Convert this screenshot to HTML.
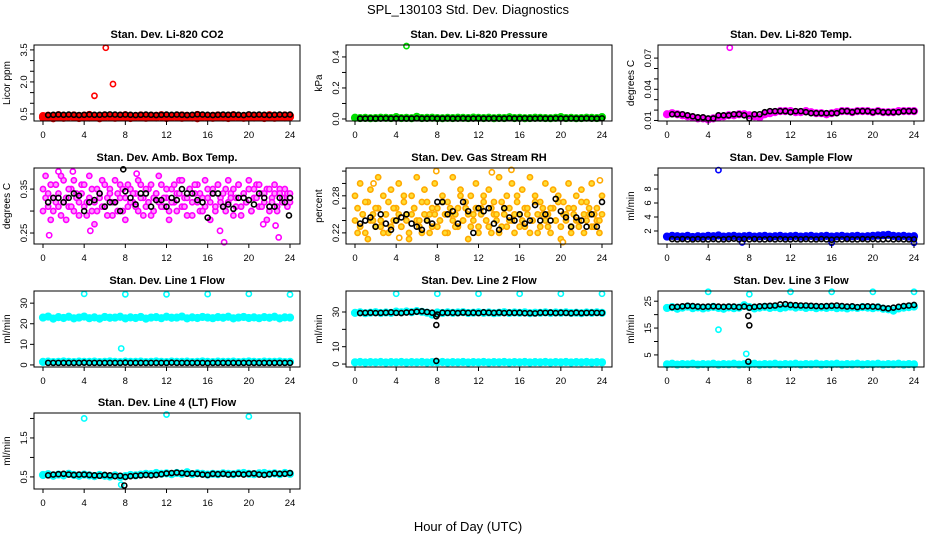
<!DOCTYPE html>
<html><head><meta charset="utf-8"><style>
body{margin:0;background:#fff;}
svg{display:block;font-family:"Liberation Sans",sans-serif;}
</style></head><body>
<svg id="chart" width="936" height="540" viewBox="0 0 936 540">
<rect width="936" height="540" fill="#fff"/>
<text x="468" y="14" text-anchor="middle" font-size="13">SPL_130103  Std. Dev. Diagnostics</text>
<text x="468" y="531" text-anchor="middle" font-size="13">Hour of Day (UTC)</text>
</svg>
<script>
// ---------- data ----------
const hourTicks = [0,4,8,12,16,20,24];

const co2Red = [0.4,0.42,0.38,0.44,0.41,0.39,0.43,0.4,0.42,0.45,0.38,0.41,0.43,0.4,0.39,0.42,0.44,0.41,0.4,0.43,0.39,0.42,0.41,0.44,0.4,0.38,0.42,0.43,0.41,0.4,0.45,0.42,0.39,0.41,0.43,0.4,0.42,0.44,0.41,0.39,0.43,0.42,0.4,0.41,0.44,0.42,0.4,0.43,0.41];
const co2RedB = [0.33,0.36,0.3,0.35,0.32,0.37,0.34,0.31,0.36,0.33,0.35,0.3,0.34,0.36,0.32,0.35,0.33,0.31,0.36,0.34,0.32,0.35,0.33,0.37,0.31,0.34,0.36,0.32,0.35,0.33,0.3,0.36,0.34,0.32,0.35,0.33,0.31,0.36,0.34,0.32,0.35,0.33,0.36,0.31,0.34,0.32,0.35,0.33,0.36];
const co2Black = [0.45,0.46,0.47,0.46,0.47,0.46,0.45,0.46,0.47,0.46,0.46,0.47,0.48,0.47,0.46,0.47,0.46,0.45,0.46,0.47,0.46,0.45,0.46,0.47,0.46,0.47,0.46,0.45,0.46,0.48,0.47,0.46,0.45,0.46,0.47,0.46,0.47,0.46,0.45,0.48,0.46,0.47,0.46,0.45,0.46,0.47,0.46,0.47];
const co2Outliers = [[5.0,1.35],[6.1,3.6],[6.8,1.9]];

const presGreen = [0.008,0.006,0.007,0.005,0.006,0.008,0.007,0.006,0.012,0.006,0.007,0.005,0.014,0.006,0.007,0.008,0.006,0.005,0.007,0.006,0.008,0.007,0.006,0.009,0.007,0.006,0.008,0.005,0.007,0.006,0.011,0.006,0.007,0.005,0.006,0.008,0.007,0.006,0.005,0.007,0.012,0.006,0.007,0.005,0.006,0.008,0.007,0.006,0.012];
const presBlack = [0.003,0.003,0.004,0.003,0.003,0.004,0.003,0.003,0.004,0.003,0.003,0.004,0.003,0.003,0.004,0.003,0.003,0.004,0.003,0.003,0.004,0.003,0.003,0.004,0.003,0.003,0.004,0.003,0.003,0.004,0.003,0.003,0.004,0.003,0.003,0.004,0.003,0.003,0.004,0.003,0.003,0.004,0.003,0.003,0.004,0.003,0.003,0.004];
const presOutliers = [[5.0,0.47]];

const tempMag = [0.016,0.017,0.016,0.015,0.014,0.013,0.012,0.012,0.011,0.012,0.013,0.014,0.015,0.015,0.016,0.016,0.015,0.014,0.013,0.016,0.017,0.018,0.019,0.019,0.019,0.018,0.018,0.019,0.018,0.017,0.017,0.016,0.017,0.018,0.019,0.019,0.018,0.019,0.019,0.019,0.018,0.019,0.018,0.018,0.018,0.019,0.019,0.019,0.019];
const tempBlack = [0.016,0.016,0.016,0.015,0.014,0.013,0.013,0.012,0.012,0.015,0.015,0.015,0.016,0.016,0.015,0.012,0.016,0.016,0.018,0.019,0.019,0.019,0.019,0.018,0.019,0.019,0.018,0.017,0.017,0.017,0.017,0.017,0.017,0.019,0.019,0.018,0.019,0.019,0.019,0.018,0.019,0.018,0.018,0.018,0.018,0.019,0.019,0.019];
const tempOutliers = [[6.1,0.08]];

const ambMagA = [0.35,0.33,0.31,0.36,0.30,0.32,0.34,0.29,0.37,0.33,0.31,0.35,0.30,0.34,0.32,0.36,0.31,0.29,0.33,0.35,0.32,0.30,0.34,0.37,0.31,0.33,0.35,0.29,0.32,0.34,0.36,0.30,0.33,0.31,0.35,0.32,0.34,0.30,0.36,0.33,0.31,0.35,0.29,0.33,0.34,0.32,0.36,0.31,0.33,0.30,0.35,0.32,0.34,0.37,0.31,0.33,0.29,0.35,0.32,0.34,0.36,0.30,0.33,0.31,0.35,0.32,0.34,0.30,0.36,0.33,0.31,0.35,0.32,0.34,0.29,0.33,0.36,0.31,0.34,0.32,0.35,0.30,0.33,0.36,0.31,0.34,0.32,0.35,0.30,0.33,0.34,0.31,0.35,0.32,0.33,0.34,0.32];
const ambMagB = [0.30,0.38,0.34,0.28,0.33,0.36,0.31,0.38,0.32,0.28,0.35,0.31,0.37,0.33,0.29,0.34,0.36,0.32,0.38,0.30,0.27,0.35,0.33,0.31,0.36,0.29,0.34,0.32,0.37,0.30,0.33,0.35,0.28,0.36,0.32,0.34,0.31,0.37,0.33,0.29,0.35,0.32,0.36,0.30,0.34,0.38,0.31,0.33,0.35,0.28,0.32,0.36,0.30,0.34,0.37,0.31,0.33,0.35,0.29,0.36,0.32,0.34,0.30,0.37,0.33,0.28,0.35,0.31,0.36,0.32,0.34,0.30,0.37,0.33,0.35,0.31,0.36,0.29,0.34,0.32,0.37,0.30,0.35,0.33,0.36,0.31,0.34,0.28,0.35,0.32,0.36,0.30,0.34,0.33,0.35,0.31,0.34];
const ambBlack = [0.32,0.33,0.33,0.32,0.33,0.34,0.335,0.30,0.32,0.325,0.34,0.31,0.32,0.32,0.30,0.345,0.33,0.315,0.34,0.34,0.31,0.325,0.325,0.31,0.33,0.325,0.35,0.34,0.34,0.325,0.32,0.285,0.34,0.34,0.31,0.315,0.305,0.33,0.33,0.325,0.315,0.34,0.33,0.31,0.31,0.33,0.32,0.33];
const ambOutliers = [[0.6,0.245],[4.6,0.255],[17.2,0.255],[17.6,0.229],[21.4,0.27],[22.6,0.267],[22.9,0.24],[1.5,0.39],[2.9,0.39],[9.1,0.385]];
const ambBlackOut = [[7.8,0.395],[23.9,0.29]];

const rhOrgA = [0.24,0.26,0.23,0.25,0.22,0.27,0.24,0.25,0.23,0.26,0.24,0.22,0.25,0.27,0.23,0.24,0.26,0.25,0.23,0.28,0.24,0.22,0.25,0.26,0.24,0.23,0.27,0.25,0.24,0.22,0.26,0.25,0.23,0.24,0.27,0.25,0.22,0.26,0.24,0.25,0.23,0.28,0.24,0.26,0.25,0.23,0.24,0.26,0.22,0.25,0.27,0.24,0.23,0.26,0.25,0.24,0.22,0.27,0.25,0.23,0.26,0.24,0.25,0.28,0.23,0.24,0.26,0.25,0.22,0.24,0.27,0.25,0.23,0.26,0.24,0.25,0.22,0.26,0.24,0.27,0.23,0.25,0.24,0.26,0.22,0.25,0.24,0.23,0.27,0.25,0.24,0.26,0.23,0.25,0.24,0.22,0.25];
const rhOrgB = [0.28,0.22,0.30,0.25,0.27,0.21,0.29,0.24,0.26,0.31,0.23,0.28,0.25,0.22,0.29,0.26,0.24,0.30,0.23,0.27,0.25,0.21,0.28,0.26,0.31,0.24,0.22,0.29,0.27,0.25,0.23,0.30,0.26,0.24,0.28,0.22,0.27,0.25,0.31,0.23,0.26,0.29,0.24,0.27,0.21,0.28,0.25,0.30,0.23,0.26,0.28,0.24,0.29,0.22,0.27,0.25,0.31,0.23,0.26,0.28,0.24,0.30,0.22,0.27,0.25,0.29,0.23,0.26,0.31,0.24,0.28,0.22,0.27,0.25,0.30,0.23,0.26,0.29,0.24,0.28,0.21,0.27,0.25,0.30,0.23,0.26,0.28,0.24,0.29,0.22,0.27,0.25,0.30,0.23,0.26,0.24,0.28];
const rhBlack = [0.235,0.24,0.245,0.23,0.25,0.235,0.225,0.24,0.245,0.25,0.235,0.23,0.225,0.24,0.235,0.27,0.27,0.25,0.255,0.235,0.27,0.255,0.22,0.26,0.255,0.26,0.235,0.225,0.26,0.245,0.24,0.25,0.235,0.24,0.265,0.24,0.25,0.24,0.275,0.255,0.245,0.23,0.245,0.24,0.23,0.25,0.23,0.27];
const rhOutliers = [[7.9,0.32],[1.8,0.30],[15.2,0.322],[13.3,0.318],[23.8,0.305],[4.3,0.212],[20.2,0.205]];

const flowBlue = [1.2,1.3,1.25,1.2,1.3,1.15,1.25,1.2,1.3,1.25,1.35,1.2,1.25,1.3,1.2,1.25,1.3,1.2,1.25,1.3,1.2,1.25,1.3,1.2,1.25,1.3,1.2,1.25,1.3,1.2,1.25,1.3,1.2,1.25,1.3,1.2,1.25,1.3,1.2,1.25,1.3,1.35,1.4,1.45,1.3,1.25,1.3,1.2,1.25];
const flowBlack = [0.85,0.8,0.85,0.8,0.8,0.85,0.8,0.8,0.85,0.8,0.8,0.85,0.9,0.8,0.85,0.8,0.85,0.8,0.8,0.85,0.8,0.85,0.8,0.8,0.85,0.8,0.85,0.8,0.8,0.85,0.8,0.75,0.8,0.8,0.85,0.8,0.8,0.85,0.8,0.85,0.8,0.8,0.85,0.8,0.85,0.8,0.8,0.8];
const flowOutliers = [[5.0,10.7],[7.3,0.35],[16.0,0.3],[24.0,0.3]];

const l1CyanHi = [23,23.5,22.5,23.2,22.8,23.4,22.6,23,23.5,22.7,23.1,22.5,23.3,22.9,23,23.4,22.6,23.1,22.8,23.3,22.5,23,23.2,22.7,23.4,22.9,23,23.5,22.6,23.1,22.8,23.3,23,22.7,23.2,22.9,23.4,22.6,23,23.3,22.8,23.1,22.7,23.2,22.9,23.4,22.6,23.1,23];
const l1CyanLo = [1.5,1.6,1.4,1.5,1.7,1.5,1.4,1.6,1.5,1.5,1.6,1.4,1.5,1.7,1.5,1.4,1.6,1.5,1.5,1.6,1.4,1.5,1.7,1.5,1.4,1.6,1.5,1.5,1.6,1.4,1.5,1.7,1.5,1.4,1.6,1.5,1.5,1.6,1.4,1.5,1.7,1.5,1.4,1.6,1.5,1.5,1.6,1.4,1.5];
const l1Black = [1,1,1,1,1,1,1,1.1,1,1,1,1,1,1,1,1.1,1,1,1,1,1,1,1,1,1.1,1,1,1,1,1,1,0.9,1,1,1,1,1,1,1,1,1,1,1,1,1,1,1,1];
const l1Outliers = [[4,34.5],[8,34.3],[12,34.3],[16,34.4],[20,34.5],[24,34.2],[7.6,8]];

const l2CyanHi = [29.5,29.8,29.3,29.6,29.9,29.4,29.7,29.5,30.2,29.8,30.3,29.9,30.5,30.1,29.6,28.5,29.7,29.4,29.8,29.5,29.7,29.9,29.4,29.6,29.8,29.5,29.7,29.3,29.6,29.9,29.4,29.7,29.5,29.8,29.3,29.6,29.5,29.8,29.4,29.7,29.5,29.8,29.4,29.6,29.3,29.7,29.5,29.8,29.5];
const l2CyanLo = [1,1.2,0.9,1.1,1,1.2,0.9,1.1,1,1.2,0.9,1.1,1,1.2,0.9,1.1,1,1.2,0.9,1.1,1,1.2,0.9,1.1,1,1.2,0.9,1.1,1,1.2,0.9,1.1,1,1.2,0.9,1.1,1,1.2,0.9,1.1,1,1.2,0.9,1.1,1,1.2,0.9,1.1,1];
const l2Black = [29.4,29.5,29.6,29.4,29.5,29.6,29.8,29.5,29.4,29.7,29.9,30.2,30.4,30,29.6,28.5,29.6,29.5,29.6,29.4,29.7,29.5,29.6,29.4,29.8,29.6,29.5,29.7,29.4,29.6,29.5,29.6,29.3,29.4,29.2,29.6,29.5,29.7,29.4,29.6,29.5,29.3,29.6,29.4,29.5,29.6,29.5,29.5];
const l2Outliers = [[4,40.5],[8,40.5],[12,40.5],[16,40.5],[20,40.5],[24,40.5]];
const l2BlackOut = [[7.9,27.5],[7.9,22.5],[7.9,1.8]];

const l3CyanHi = [22.5,22.8,22.2,22.6,23,22.4,22.7,22.3,22.6,22.9,22.5,22.2,22.7,22.4,22.6,23.5,22.8,22.3,22.6,22.9,22.5,22.8,22.4,22.7,23,22.6,22.9,22.5,22.8,22.4,22.7,22.5,22.8,22.4,22.6,22.3,22.7,22.5,22.8,22.6,22.4,22.7,22.2,22,21.5,22.3,22.6,22.8,23];
const l3CyanLo = [1.5,1.7,1.4,1.6,1.5,1.7,1.4,1.6,1.5,1.7,1.4,1.6,1.5,1.7,1.4,1.6,1.5,1.7,1.4,1.6,1.5,1.7,1.4,1.6,1.5,1.7,1.4,1.6,1.5,1.7,1.4,1.6,1.5,1.7,1.4,1.6,1.5,1.7,1.4,1.6,1.5,1.7,1.4,1.6,1.5,1.7,1.4,1.6,1.5];
const l3Black = [22.8,22.9,23.1,23.3,23.2,23,22.9,23,23.1,23,22.9,23,23,22.8,23,22.6,22.9,23.1,23.2,23.3,23.4,23.8,23.9,23.6,23.5,23.4,23.4,23.3,23.2,23.1,23.2,23.3,23.4,23.2,23,23.1,22.8,23,23.1,23,22.9,22.5,22.3,22.6,22.9,23.2,23.4,23.6];
const l3Outliers = [[4,28.5],[8,27.6],[12,28.5],[16,28.5],[20,28.5],[24,28.5],[5,14.4],[7.7,5.4]];
const l3BlackOut = [[7.9,19.5],[8,16],[7.9,2.5]];

const l4Cyan = [0.55,0.57,0.53,0.56,0.54,0.58,0.55,0.53,0.56,0.54,0.52,0.55,0.53,0.51,0.54,0.5,0.52,0.55,0.54,0.56,0.58,0.57,0.6,0.58,0.59,0.57,0.6,0.58,0.62,0.57,0.59,0.58,0.56,0.58,0.57,0.59,0.58,0.57,0.59,0.6,0.58,0.57,0.59,0.6,0.58,0.59,0.57,0.6,0.58];
const l4Black = [0.54,0.56,0.57,0.58,0.56,0.55,0.56,0.56,0.55,0.54,0.53,0.55,0.54,0.52,0.53,0.5,0.52,0.53,0.54,0.55,0.54,0.55,0.57,0.59,0.6,0.61,0.6,0.58,0.59,0.58,0.56,0.55,0.58,0.57,0.58,0.56,0.57,0.58,0.56,0.58,0.59,0.56,0.55,0.57,0.59,0.58,0.58,0.6];
const l4Outliers = [[4,2.0],[12,2.1],[20,2.05],[7.6,0.3]];
const l4BlackOut = [[7.9,0.28]];

// ---------- layout ----------
const BOX_W = 266, BOX_H = 76;
const colLeft = [34, 346, 658];
const rowTop = [45, 168, 291, 413];
const NS = 'http://www.w3.org/2000/svg';
const svg = document.getElementById('chart');

function mk(tag, attrs, parent){
  const e = document.createElementNS(NS, tag);
  for (const k in attrs) e.setAttribute(k, attrs[k]);
  (parent || svg).appendChild(e);
  return e;
}

const panels = [
 {key:'co2', title:'Stan. Dev. Li-820 CO2', ylab:'Licor ppm', col:0,row:0, dom:[0.17,3.73], ticks:[0.5,1,1.5,2,2.5,3,3.5], labels:['0.5','','','2.0','','','3.5'], color:'#ff0000',
  series:[co2RedB, co2Red], black:co2Black, out:co2Outliers, bout:[]},
 {key:'pressure', title:'Stan. Dev. Li-820 Pressure', ylab:'kPa', col:1,row:0, dom:[-0.013,0.477], ticks:[0,0.1,0.2,0.3,0.4], labels:['0.0','','0.2','','0.4'], color:'#00dd00',
  series:[presGreen], black:presBlack, out:presOutliers, bout:[]},
 {key:'li820-temp', title:'Stan. Dev. Li-820 Temp.', ylab:'degrees C', col:2,row:0, dom:[0.0095,0.0826], ticks:[0.01,0.02,0.03,0.04,0.05,0.06,0.07], labels:['0.01','','','0.04','','','0.07'], color:'#ff00ff',
  series:[tempMag], black:tempBlack, out:tempOutliers, bout:[]},
 {key:'amb-box-temp', title:'Stan. Dev. Amb. Box Temp.', ylab:'degrees C', col:0,row:1, dom:[0.225,0.398], ticks:[0.25,0.30,0.35], labels:['0.25','','0.35'], color:'#ff00ff', ring:true, inner:'#ff99ff',
  series:[ambMagA, ambMagB], black:ambBlack, out:ambOutliers, bout:ambBlackOut},
 {key:'gas-rh', title:'Stan. Dev. Gas Stream RH', ylab:'percent', col:1,row:1, dom:[0.202,0.325], ticks:[0.22,0.24,0.26,0.28,0.30,0.32], labels:['0.22','','','0.28','',''], color:'#ffaa00', ring:true, inner:'#ffdd33',
  series:[rhOrgA, rhOrgB], black:rhBlack, out:rhOutliers, bout:[]},
 {key:'sample-flow', title:'Stan. Dev. Sample Flow', ylab:'ml/min', col:2,row:1, dom:[0.14,11], ticks:[2,4,6,8,10], labels:['2','4','6','8',''], color:'#0000ff',
  series:[flowBlue], black:flowBlack, out:flowOutliers, bout:[]},
 {key:'line1-flow', title:'Stan. Dev. Line 1 Flow', ylab:'ml/min', col:0,row:2, dom:[-1,35.9], ticks:[0,10,20,30], labels:['0','10','20','30'], color:'#00ffff',
  series:[l1CyanHi, l1CyanLo], black:l1Black, out:l1Outliers, bout:[]},
 {key:'line2-flow', title:'Stan. Dev. Line 2 Flow', ylab:'ml/min', col:1,row:2, dom:[-1.7,42.1], ticks:[0,10,20,30], labels:['0','10','','30'], color:'#00ffff',
  series:[l2CyanHi, l2CyanLo], black:l2Black, out:l2Outliers, bout:l2BlackOut},
 {key:'line3-flow', title:'Stan. Dev. Line 3 Flow', ylab:'ml/min', col:2,row:2, dom:[0.5,28.8], ticks:[5,10,15,20,25], labels:['5','','15','','25'], color:'#00ffff',
  series:[l3CyanHi, l3CyanLo], black:l3Black, out:l3Outliers, bout:l3BlackOut},
 {key:'line4-flow', title:'Stan. Dev. Line 4 (LT) Flow', ylab:'ml/min', col:0,row:3, dom:[0.19,2.14], ticks:[0.5,1.0,1.5,2.0], labels:['0.5','','1.5',''], color:'#00ffff',
  series:[l4Cyan], black:l4Black, out:l4Outliers, bout:l4BlackOut}
];

panels.forEach(p => {
  const L = colLeft[p.col], T = rowTop[p.row], B = T + BOX_H;
  const xs = h => L + 9 + h * (247 / 24);
  const ys = v => B - (v - p.dom[0]) / (p.dom[1] - p.dom[0]) * BOX_H;
  const g = mk('g', {});
  
  

  const t = mk('text', {x: L + BOX_W/2, y: T - 7, 'text-anchor':'middle', 'font-size':'11', 'font-weight':'bold'}, g);
  t.textContent = p.title;
  
  

  const yl = mk('text', {x: L - 24, y: T + BOX_H/2, 'text-anchor':'middle', 'font-size':'10', transform:`rotate(-90 ${L-24} ${T+BOX_H/2})`}, g);
  yl.textContent = p.ylab;
  
  

  const mg = mk('g', {}, g);
  
  
  p.series.forEach(arr => {
    arr.forEach((v, i) => {
      const h = i * 24 / (arr.length - 1);
      const c = mk('circle', {cx: xs(h), cy: ys(v), r: p.ring ? 2.6 : 3.3, fill: p.ring ? p.inner : p.color, stroke: p.color, 'stroke-width': 1.6}, mg);
      
      
    });
  });
  p.out.forEach(([h, v]) => {
    const c = mk('circle', {cx: xs(h), cy: ys(v), r: 2.6, fill: '#fff', stroke: p.color, 'stroke-width': 1.6}, mg);
    
    
  });
  const bg = mk('g', {}, g);
  
  
  p.black.forEach((v, i) => {
    const h = 0.5 + i * 23.5 / (p.black.length - 1);
    const c = mk('circle', {cx: xs(h), cy: ys(v), r: 2.5, fill: 'none', stroke: '#000', 'stroke-width': 1.6}, bg);
    
    
  });
  p.bout.forEach(([h, v]) => {
    const c = mk('circle', {cx: xs(h), cy: ys(v), r: 2.5, fill: 'none', stroke: '#000', 'stroke-width': 1.6}, bg);
    
    
  });

  const box = mk('rect', {x: L, y: T, width: BOX_W, height: BOX_H, fill: 'none', stroke: '#000', 'stroke-width': 1}, g);
  
  

  const xa = mk('g', {}, g);
  
  
  hourTicks.forEach(h => {
    mk('line', {x1: xs(h), x2: xs(h), y1: B, y2: B + 4, stroke: '#000'}, xa);
    const tl = mk('text', {x: xs(h), y: B + 17, 'text-anchor':'middle', 'font-size':'9.5'}, xa);
    tl.textContent = h;
    
    
  });
  const ya = mk('g', {}, g);
  
  
  p.ticks.forEach((v, i) => {
    const y = ys(v);
    mk('line', {x1: L - 4, x2: L, y1: y, y2: y, stroke: '#000'}, ya);
    if (p.labels[i]) {
      const tl = mk('text', {x: L - 7, y: y, 'text-anchor':'middle', 'font-size':'9.5', transform:`rotate(-90 ${L-7} ${y})`}, ya);
      tl.textContent = p.labels[i];
      
      
    }
  });
});
</script>
</body></html>
